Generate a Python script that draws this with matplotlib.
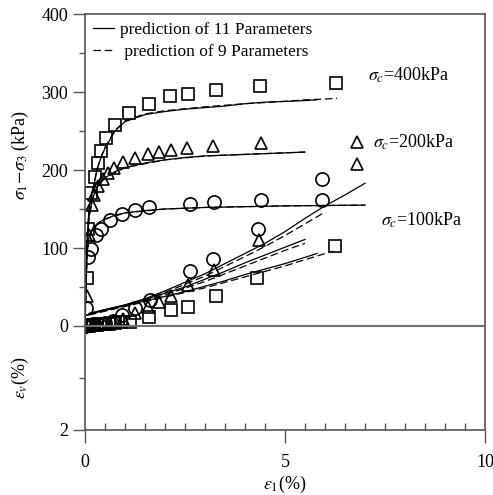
import numpy as np
import matplotlib
matplotlib.use("Agg")
import matplotlib.pyplot as plt

plt.rcParams['font.family'] = ['Liberation Serif', 'DejaVu Serif']
plt.rcParams['mathtext.fontset'] = 'stix'

# --- measured points: deviator stress (kPa) vs axial strain (%) ---
sq_q_x = [0.0, 0.04, 0.08, 0.15, 0.25, 0.32, 0.4, 0.53, 0.75, 1.09, 1.6, 2.13, 2.58, 3.28, 4.38, 6.28]
sq_q_y = [0, 61, 124, 170, 191, 209, 224, 241, 258, 273, 285, 295, 297, 302, 308, 311]
tri_q_x = [0.0, 0.04, 0.1, 0.17, 0.23, 0.33, 0.44, 0.58, 0.73, 0.94, 1.25, 1.58, 1.86, 2.15, 2.54, 3.21, 4.39, 6.79]
tri_q_y = [0, 38, 117, 155, 168, 180, 189, 196, 203, 210, 216, 220, 223, 226, 228, 231, 235, 236]
cir_q_x = [0.0, 0.03, 0.08, 0.14, 0.28, 0.39, 0.63, 0.92, 1.25, 1.6, 2.63, 3.23, 4.39, 5.92]
cir_q_y = [0, 23, 88, 99, 117, 125, 136, 143, 149, 152, 157, 159, 162, 162]

# --- measured points: volumetric data (drawn on same axis) ---
sq_v_x = [0.0, 0.05, 0.1, 0.15, 0.2, 0.3, 0.4, 0.5, 0.6, 0.75, 0.9, 1.13, 1.6, 2.14, 2.58, 3.28, 4.31, 6.25]
sq_v_y = [0, 0, 0.5, 1, 1, 1.5, 2, 2.5, 3, 4, 5, 5.5, 11, 20, 25, 38, 61, 102]
tri_v_x = [0.0, 0.1, 0.2, 0.35, 0.5, 0.7, 0.95, 1.25, 1.58, 1.86, 2.14, 2.57, 3.23, 4.36, 6.79]
tri_v_y = [0, 1, 2, 3, 4, 6, 9, 17, 25, 31, 38, 53, 72, 110, 208]
cir_v_x = [0.0, 0.1, 0.2, 0.35, 0.5, 0.7, 0.92, 1.25, 1.63, 2.63, 3.21, 4.33, 5.92]
cir_v_y = [0, 1, 2, 3, 4, 6, 14, 23, 33, 70, 86, 125, 188]

# --- predictions, 11 parameters (solid) ---
p11_400_x = [0, 0.02, 0.05, 0.1, 0.2, 0.3, 0.4, 0.5, 0.75, 1.0, 1.5, 2.0, 2.5, 3.0, 3.5, 4.0, 4.5, 5.0, 5.5, 5.8]
p11_400_y = [0, 60, 110, 150, 175, 200, 216, 228, 250, 262, 271, 275, 278, 280, 282, 285, 287, 288, 289, 290]
p11_200_x = [0, 0.02, 0.05, 0.1, 0.2, 0.3, 0.5, 0.75, 1.0, 1.5, 2.0, 2.5, 3.0, 3.5, 4.0, 4.5, 5.0, 5.5]
p11_200_y = [0, 50, 100, 140, 165, 178, 190, 198, 203, 209, 213, 216, 218, 219, 220, 221, 222, 223]
p11_100_x = [0, 0.02, 0.05, 0.1, 0.2, 0.35, 0.5, 0.75, 1.0, 1.5, 2, 3, 4, 5, 6, 7]
p11_100_y = [0, 45, 90, 115, 126, 133, 137, 142, 145, 148, 150, 152, 153, 154, 154.5, 155]
p11_v100_x = [0.1, 0.5, 1.0, 1.5, 2.0, 2.5, 3.0, 3.5, 4.0, 4.5, 5.0, 5.5, 6.0, 6.5, 7.0]
p11_v100_y = [16, 21, 27, 35, 45, 56, 67, 80, 93, 106, 121, 138, 154, 168, 183]
p11_v200_x = [0.1, 0.5, 1, 1.5, 2, 2.5, 3, 3.5, 4, 4.5, 5, 5.5]
p11_v200_y = [16, 21, 27, 34, 42, 50, 60, 70, 81, 91, 101, 111]
p11_v400_x = [0.1, 0.5, 1, 1.5, 2, 2.5, 3, 3.5, 4, 4.5, 5, 5.5, 5.8]
p11_v400_y = [15, 20, 26, 32, 38, 44, 51, 58, 66, 73, 80, 88, 93]

# --- predictions, 9 parameters (dashed) ---
p9_400_x = [0, 0.02, 0.05, 0.1, 0.2, 0.3, 0.4, 0.5, 0.75, 1.0, 1.5, 2.0, 3.0, 4.0, 5.0, 5.5, 6.0, 6.3]
p9_400_y = [0, 58, 108, 149, 176, 201, 217, 229, 251, 263, 272, 276, 281, 285, 288, 290, 291, 292]
p9_200_x = [0, 0.05, 0.1, 0.2, 0.3, 0.5, 1.0, 2.0, 3.0, 4.0, 5.0, 5.5]
p9_200_y = [0, 98, 139, 165, 178, 190, 203, 213, 218, 220, 222, 223]
p9_100_x = [0, 0.05, 0.1, 0.2, 0.5, 1.0, 2, 3, 4, 5, 6, 7]
p9_100_y = [0, 88, 114, 126, 137, 145, 150, 152, 153, 154, 154.5, 155]
p9_v100_x = [0.1, 0.5, 1.0, 2.0, 3.0, 4.0, 4.5, 5.0, 5.5, 6.0]
p9_v100_y = [15, 20, 26, 43, 64, 89, 102, 116, 131, 146]
p9_v200_x = [0.1, 0.5, 1, 2, 3, 4, 4.5, 5, 5.5]
p9_v200_y = [15, 20, 26, 40, 57, 77, 87, 97, 106]
p9_v400_x = [0.1, 0.5, 1, 2, 3, 4, 5, 5.5, 6.2]
p9_v400_y = [14, 19, 25, 37, 49, 63, 77, 85, 96]

fig = plt.figure(figsize=(4.93, 4.95), dpi=100)
ax = fig.add_axes([85 / 493, 1 - 430 / 495, 400 / 493, 416 / 495])

ymin = -400.0 / 3.0  # epsilon_v = 2 % at the bottom
ax.set_xlim(0, 10)
ax.set_ylim(ymin, 400)

mk = dict(mfc='none', mec='black', mew=1.2, ls='none')
ax.plot(sq_q_x, sq_q_y, marker='s', ms=9, **mk)
ax.plot(tri_q_x, tri_q_y, marker='^', ms=8, **mk)
ax.plot(cir_q_x, cir_q_y, marker='o', ms=9.5, **mk)
ax.plot(sq_v_x, sq_v_y, marker='s', ms=9, **mk)
ax.plot(tri_v_x, tri_v_y, marker='^', ms=8, **mk)
ax.plot(cir_v_x, cir_v_y, marker='o', ms=9.5, **mk)

sol = dict(color='black', lw=0.9)
ax.plot(p11_400_x, p11_400_y, **sol, label='prediction of 11 Parameters')
ax.plot(p11_200_x, p11_200_y, **sol)
ax.plot(p11_100_x, p11_100_y, **sol)
ax.plot(p11_v100_x, p11_v100_y, **sol)
ax.plot(p11_v200_x, p11_v200_y, **sol)
ax.plot(p11_v400_x, p11_v400_y, **sol)

dsh = dict(color='black', lw=0.9, ls=(0, (6, 3)))
ax.plot(p9_400_x, p9_400_y, **dsh, label=' prediction of 9 Parameters')
ax.plot(p9_200_x, p9_200_y, **dsh)
ax.plot(p9_100_x, p9_100_y, **dsh)
ax.plot(p9_v100_x, p9_v100_y, **dsh)
ax.plot(p9_v200_x, p9_v200_y, **dsh)
ax.plot(p9_v400_x, p9_v400_y, **dsh)

ax.axhline(0, color='#707070', lw=1.5)

for s in ax.spines.values():
    s.set_color('#555555')
    s.set_linewidth(1.2)

fs = 13
ax.set_yticks([ymin, 0, 100, 200, 300, 400])
ax.set_yticklabels(['2', '0', '100', '200', '300', '400'])
ax.set_yticks([ymin / 2, 50, 150, 250, 350], minor=True)
ax.tick_params(axis='y', which='major', direction='out', length=9, width=1, color='#555555', labelsize=fs, pad=3)
ax.tick_params(axis='y', which='minor', direction='out', length=4.5, width=1, color='#555555')

ax.set_xticks([0, 5, 10])
ax.set_xticks(np.arange(0.5, 10, 0.5), minor=True)
ax.tick_params(axis='x', which='major', direction='out', length=9, width=1, color='#555555', labelsize=fs, pad=8)
ax.tick_params(axis='x', which='minor', direction='in', length=5, width=1, color='#555555')

ax.legend(loc='upper left', frameon=False, fontsize=12.5, handlelength=1.2,
          handletextpad=0.35, borderaxespad=0.0, borderpad=0.45, labelspacing=0.35)

ax.text(7.08, 322, r'$\sigma_c$=400kPa', fontsize=fs, va='center')
ax.text(7.2, 235, r'$\sigma_c$=200kPa', fontsize=fs, va='center')
ax.text(7.4, 136, r'$\sigma_c$=100kPa', fontsize=fs, va='center')

fig.text(20 / 493, 1 - 155 / 495, r'$\sigma_1\!-\!\sigma_3$ (kPa)', rotation=90,
         ha='center', va='center', fontsize=fs)
fig.text(20 / 493, 1 - 378 / 495, r'$\varepsilon_v$(%)', rotation=90,
         ha='center', va='center', fontsize=fs)
fig.text(285 / 493, 1 - 484 / 495, r'$\varepsilon_1$(%)', ha='center', va='center', fontsize=fs)

fig.savefig('out.png', dpi=100)
